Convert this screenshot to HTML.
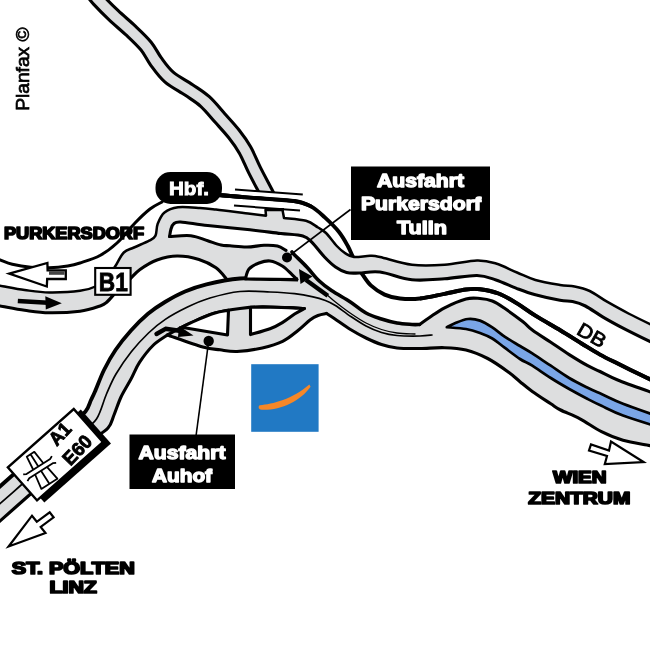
<!DOCTYPE html>
<html><head><meta charset="utf-8"><title>Map</title>
<style>
html,body{margin:0;padding:0;background:#fff;}
body{width:650px;height:650px;overflow:hidden;font-family:"Liberation Sans",sans-serif;}
svg{display:block;filter:blur(0.5px);}
svg text{font-family:"Liberation Sans",sans-serif;}
</style></head><body>
<svg width="650" height="650" viewBox="0 0 650 650">
<rect width="650" height="650" fill="#fff"/>
<path d="M218.0 195.0 C223.3 195.4 237.3 196.6 250.0 197.6 C262.7 198.6 283.8 199.5 294.0 201.0 C304.2 202.5 305.9 203.7 311.0 206.4 C316.1 209.1 320.1 213.1 324.8 217.4 C329.5 221.7 335.2 227.2 339.0 232.0 C342.8 236.8 345.5 241.8 347.8 246.0 C350.1 250.2 350.7 252.5 353.0 257.0 C355.3 261.5 358.5 268.3 361.5 273.0 C364.5 277.7 366.9 281.8 370.8 285.4 C374.7 289.0 379.7 292.4 384.6 294.6 C389.5 296.8 394.1 297.9 400.0 298.5 C405.9 299.1 412.6 299.3 420.0 298.5 C427.4 297.7 436.9 295.3 444.6 293.8 C452.3 292.3 460.1 290.3 466.0 289.5 C471.9 288.7 474.6 288.5 480.0 289.2 C485.4 289.9 492.3 291.1 498.5 293.5 C504.7 295.9 510.9 299.7 517.0 303.4 C523.1 307.1 528.1 311.2 535.4 315.7 C542.7 320.2 552.9 325.9 560.6 330.5 C568.3 335.1 574.9 339.5 581.5 343.5 C588.1 347.5 594.0 351.3 600.0 354.6 C606.0 357.9 611.2 360.3 617.7 363.5 C624.2 366.7 632.0 370.6 639.0 374.0 C646.0 377.4 656.5 382.3 660.0 384.0" fill="none" stroke="#000" stroke-width="3.9" stroke-linecap="round" stroke-linejoin="round"/>
<path d="M-5.0 258.0 C-4.2 258.3 -2.9 258.8 0.0 259.8 C2.9 260.8 7.2 263.0 12.3 264.2 C17.4 265.4 24.6 266.6 30.8 267.2 C37.0 267.8 43.1 268.0 49.2 267.8 C55.4 267.6 62.6 266.8 67.7 266.0 C72.8 265.2 74.6 264.8 80.0 263.0 C85.4 261.2 93.8 258.8 100.0 255.5 C106.2 252.2 111.2 248.4 117.0 243.0 C122.8 237.6 129.5 228.7 135.0 223.0 C140.5 217.3 145.5 212.5 150.0 209.0 C154.5 205.5 160.0 203.2 162.0 202.0" fill="none" stroke="#000" stroke-width="3.0" stroke-linecap="round" stroke-linejoin="round"/>
<path d="M92.0 -8.0 C93.1 -6.7 94.9 -3.9 98.5 0.0 C102.1 3.9 108.4 10.3 113.8 15.4 C119.2 20.5 125.6 25.7 131.0 30.8 C136.4 35.9 141.8 40.9 146.0 46.0 C150.2 51.1 152.2 56.3 156.0 61.5 C159.8 66.7 163.5 72.2 169.0 77.0 C174.5 81.8 183.0 85.9 189.0 90.0 C195.0 94.1 199.8 96.8 205.0 101.5 C210.2 106.2 215.2 112.6 220.0 118.0 C224.8 123.4 229.8 128.7 234.0 134.0 C238.2 139.3 241.6 144.0 245.0 150.0 C248.4 156.0 251.0 163.0 254.5 170.0 C258.0 177.0 263.4 187.0 266.0 192.0 C268.6 197.0 269.3 198.7 270.0 200.0" fill="none" stroke="#000" stroke-width="16.0" stroke-linecap="butt" stroke-linejoin="round"/>
<path d="M92.0 -8.0 C93.1 -6.7 94.9 -3.9 98.5 0.0 C102.1 3.9 108.4 10.3 113.8 15.4 C119.2 20.5 125.6 25.7 131.0 30.8 C136.4 35.9 141.8 40.9 146.0 46.0 C150.2 51.1 152.2 56.3 156.0 61.5 C159.8 66.7 163.5 72.2 169.0 77.0 C174.5 81.8 183.0 85.9 189.0 90.0 C195.0 94.1 199.8 96.8 205.0 101.5 C210.2 106.2 215.2 112.6 220.0 118.0 C224.8 123.4 229.8 128.7 234.0 134.0 C238.2 139.3 241.6 144.0 245.0 150.0 C248.4 156.0 251.0 163.0 254.5 170.0 C258.0 177.0 263.4 187.0 266.0 192.0 C268.6 197.0 269.3 198.7 270.0 200.0" fill="none" stroke="#dddedf" stroke-width="9.8" stroke-linecap="butt" stroke-linejoin="round"/>
<path d="M244 190.2 L292 193.8 L292 212 L244 212 Z" fill="#fff"/>
<path d="M218.0 195.0 C223.3 195.4 237.3 196.6 250.0 197.6 C262.7 198.6 283.8 199.5 294.0 201.0 C304.2 202.5 308.2 205.5 311.0 206.4" fill="none" stroke="#000" stroke-width="3.9" stroke-linecap="round" stroke-linejoin="round"/>
<rect x="266" y="209" width="17" height="12" fill="#dddedf" stroke="#000" stroke-width="2"/>
<path d="M-8.0 284.3 C-6.7 284.5 -5.4 284.8 0.0 285.7 C5.4 286.6 16.4 288.9 24.6 290.0 C32.8 291.1 40.0 292.4 49.2 292.5 C58.4 292.6 71.9 292.0 80.0 290.8 C88.1 289.6 93.3 287.8 98.0 285.5 C102.7 283.2 105.1 280.2 108.0 277.0 C110.9 273.8 112.8 270.1 115.4 266.0 C118.0 261.9 120.7 255.6 123.8 252.5 C126.9 249.4 129.8 249.5 134.0 247.5 C138.2 245.5 145.6 242.7 149.2 240.7 C152.8 238.7 154.1 238.4 155.5 235.6 C156.9 232.8 156.2 227.7 157.7 223.8 C159.2 220.0 161.1 215.2 164.5 212.5 C167.9 209.8 172.1 208.1 178.0 207.3 C183.9 206.6 193.7 207.6 200.0 208.0 C206.3 208.4 207.7 208.6 216.0 209.5 C224.3 210.4 241.7 212.7 250.0 213.7 C258.3 214.7 263.3 215.4 266.0 215.7 L265.5 210 L282.5 210 L284 218 C287.7 218.5 300.3 219.2 306.0 220.8 C311.7 222.4 314.7 225.5 318.0 227.5 C321.3 229.5 322.9 229.9 326.0 233.0 C329.1 236.1 333.6 242.6 336.8 246.0 C340.0 249.4 342.5 251.6 345.4 253.4 C348.3 255.2 349.9 256.6 354.0 257.0 C358.1 257.4 365.7 255.8 370.0 255.8 C374.3 255.8 373.0 255.5 380.0 257.0 C387.0 258.5 401.2 263.5 412.0 264.8 C422.8 266.1 433.8 265.5 444.6 264.8 C455.4 264.1 468.4 260.7 477.0 260.5 C485.6 260.3 489.3 261.5 496.0 263.5 C502.7 265.5 510.4 269.8 517.0 272.5 C523.6 275.2 528.2 277.9 535.4 280.0 C542.6 282.1 553.5 283.9 560.0 285.0 C566.5 286.1 569.6 285.5 574.6 286.5 C579.6 287.5 584.3 288.5 589.7 291.0 C595.1 293.5 600.5 297.9 607.0 301.7 C613.5 305.4 620.0 309.1 628.5 313.5 C637.0 317.9 653.1 325.6 658.0 328.0 L658 345.5 C652.3 342.7 633.2 333.4 624.0 328.6 C614.8 323.8 609.0 320.6 602.6 316.8 C596.2 313.0 590.4 308.6 585.4 306.0 C580.4 303.4 576.7 302.4 572.5 301.5 C568.3 300.6 566.2 301.4 560.0 300.3 C553.8 299.2 542.6 296.8 535.4 294.8 C528.2 292.9 523.6 291.1 517.0 288.6 C510.4 286.1 502.7 282.2 496.0 280.0 C489.3 277.8 485.6 275.7 477.0 275.5 C468.4 275.3 455.4 278.1 444.6 278.8 C433.8 279.5 422.8 280.9 412.0 279.8 C401.2 278.7 388.8 273.1 380.0 272.0 C371.2 270.9 364.6 272.9 359.0 273.0 C353.4 273.1 350.5 273.5 346.6 272.5 C342.7 271.5 339.2 269.6 335.5 267.0 C331.8 264.4 328.4 261.1 324.5 257.0 C320.6 252.9 315.8 245.7 312.0 242.3 C308.2 238.9 305.7 237.7 302.0 236.4 C298.3 235.2 292.0 235.1 290.0 234.8 L300 262 L340 305 L240 285 L227 279.5 C225.2 277.6 220.7 271.2 216.0 267.8 C211.3 264.4 205.5 261.4 199.0 259.4 C192.5 257.4 184.0 255.9 177.0 256.0 C170.0 256.1 163.2 257.8 157.0 260.0 C150.8 262.2 144.7 266.2 140.0 269.5 C135.3 272.8 132.7 276.6 129.0 280.0 C125.3 283.4 121.7 286.3 118.0 290.0 C114.3 293.7 110.0 299.3 107.0 302.0 C104.0 304.7 104.5 304.5 100.0 306.0 C95.5 307.5 88.5 310.1 80.0 311.2 C71.5 312.3 58.4 312.9 49.2 312.8 C40.0 312.7 32.8 311.4 24.6 310.3 C16.4 309.2 5.4 306.9 0.0 306.0 C-5.4 305.1 -6.7 304.8 -8.0 304.6Z" fill="#dddedf" stroke="none" stroke-width="0.0" stroke-linejoin="round" />
<path d="M-8.0 284.3 C-6.7 284.5 -5.4 284.8 0.0 285.7 C5.4 286.6 16.4 288.9 24.6 290.0 C32.8 291.1 40.0 292.4 49.2 292.5 C58.4 292.6 71.9 292.0 80.0 290.8 C88.1 289.6 93.3 287.8 98.0 285.5 C102.7 283.2 105.1 280.2 108.0 277.0 C110.9 273.8 112.8 270.1 115.4 266.0 C118.0 261.9 120.7 255.6 123.8 252.5 C126.9 249.4 129.8 249.5 134.0 247.5 C138.2 245.5 145.6 242.7 149.2 240.7 C152.8 238.7 154.1 238.4 155.5 235.6 C156.9 232.8 156.2 227.7 157.7 223.8 C159.2 220.0 161.1 215.2 164.5 212.5 C167.9 209.8 172.1 208.1 178.0 207.3 C183.9 206.6 193.7 207.6 200.0 208.0 C206.3 208.4 207.7 208.6 216.0 209.5 C224.3 210.4 241.7 212.7 250.0 213.7 C258.3 214.7 263.3 215.4 266.0 215.7 L265.5 210 L282.5 210 L284 218 C287.7 218.5 300.3 219.2 306.0 220.8 C311.7 222.4 314.7 225.5 318.0 227.5 C321.3 229.5 322.9 229.9 326.0 233.0 C329.1 236.1 333.6 242.6 336.8 246.0 C340.0 249.4 342.5 251.6 345.4 253.4 C348.3 255.2 349.9 256.6 354.0 257.0 C358.1 257.4 365.7 255.8 370.0 255.8 C374.3 255.8 373.0 255.5 380.0 257.0 C387.0 258.5 401.2 263.5 412.0 264.8 C422.8 266.1 433.8 265.5 444.6 264.8 C455.4 264.1 468.4 260.7 477.0 260.5 C485.6 260.3 489.3 261.5 496.0 263.5 C502.7 265.5 510.4 269.8 517.0 272.5 C523.6 275.2 528.2 277.9 535.4 280.0 C542.6 282.1 553.5 283.9 560.0 285.0 C566.5 286.1 569.6 285.5 574.6 286.5 C579.6 287.5 584.3 288.5 589.7 291.0 C595.1 293.5 600.5 297.9 607.0 301.7 C613.5 305.4 620.0 309.1 628.5 313.5 C637.0 317.9 653.1 325.6 658.0 328.0" fill="none" stroke="#000" stroke-width="2.5" stroke-linejoin="round"/>
<path d="M-8.0 304.6 C-6.7 304.8 -5.4 305.1 0.0 306.0 C5.4 306.9 16.4 309.2 24.6 310.3 C32.8 311.4 40.0 312.7 49.2 312.8 C58.4 312.9 71.5 312.3 80.0 311.2 C88.5 310.1 95.5 307.5 100.0 306.0 C104.5 304.5 104.0 304.7 107.0 302.0 C110.0 299.3 114.3 293.7 118.0 290.0 C121.7 286.3 125.3 283.4 129.0 280.0 C132.7 276.6 135.3 272.8 140.0 269.5 C144.7 266.2 150.8 262.2 157.0 260.0 C163.2 257.8 170.0 256.1 177.0 256.0 C184.0 255.9 192.5 257.4 199.0 259.4 C205.5 261.4 211.3 264.4 216.0 267.8 C220.7 271.2 225.2 277.6 227.0 279.5" fill="none" stroke="#000" stroke-width="3.1" stroke-linecap="round" stroke-linejoin="round"/>
<path d="M169.6 236.5 C169.8 235.2 170.3 231.1 171.0 229.0 C171.7 226.9 172.2 225.0 173.8 223.8 C175.4 222.6 174.9 221.7 180.6 222.0 C186.2 222.3 196.1 224.2 207.7 225.5 C219.3 226.8 237.8 228.5 250.0 229.8 C262.2 231.1 272.0 232.5 280.8 233.5 C289.6 234.5 297.6 234.5 302.8 236.0 C308.0 237.5 308.4 238.8 312.0 242.3 C315.6 245.8 320.6 252.9 324.5 257.0 C328.4 261.1 331.8 264.4 335.5 267.0 C339.2 269.6 342.7 271.5 346.6 272.5 C350.5 273.5 353.4 273.1 359.0 273.0 C364.6 272.9 376.5 272.2 380.0 272.0 L420 280 L420 335 L366 316 L331.5 293 L307 270 L292 252 L286 250.4 C284.6 249.7 281.1 246.8 277.4 246.0 C273.7 245.2 269.1 245.1 264.0 245.3 C258.9 245.5 252.7 246.9 247.0 247.0 C241.3 247.1 234.3 246.1 230.0 245.8 C225.7 245.5 224.7 245.8 221.0 245.0 C217.3 244.2 212.7 242.4 207.7 240.8 C202.7 239.2 193.6 236.5 190.8 235.7Z" fill="#fff" stroke="none" stroke-width="0.0" stroke-linejoin="round" />
<path d="M361.5 273.0 C363.1 275.1 366.9 281.8 370.8 285.4 C374.7 289.0 379.7 292.4 384.6 294.6 C389.5 296.8 394.1 297.9 400.0 298.5 C405.9 299.1 412.6 299.3 420.0 298.5 C427.4 297.7 436.9 295.3 444.6 293.8 C452.3 292.3 460.1 290.3 466.0 289.5 C471.9 288.7 474.6 288.5 480.0 289.2 C485.4 289.9 492.3 291.1 498.5 293.5 C504.7 295.9 510.9 299.7 517.0 303.4 C523.1 307.1 528.1 311.2 535.4 315.7 C542.7 320.2 552.9 325.9 560.6 330.5 C568.3 335.1 574.9 339.5 581.5 343.5 C588.1 347.5 594.0 351.3 600.0 354.6 C606.0 357.9 611.2 360.3 617.7 363.5 C624.2 366.7 632.0 370.6 639.0 374.0 C646.0 377.4 656.5 382.3 660.0 384.0" fill="none" stroke="#000" stroke-width="3.9" stroke-linecap="butt" stroke-linejoin="round"/>
<path d="M169.6 236.5 C169.8 235.2 170.3 231.1 171.0 229.0 C171.7 226.9 172.2 225.0 173.8 223.8 C175.4 222.6 174.9 221.7 180.6 222.0 C186.2 222.3 196.1 224.2 207.7 225.5 C219.3 226.8 237.8 228.5 250.0 229.8 C262.2 231.1 272.0 232.5 280.8 233.5 C289.6 234.5 297.6 234.5 302.8 236.0 C308.0 237.5 308.4 238.8 312.0 242.3 C315.6 245.8 320.6 252.9 324.5 257.0 C328.4 261.1 331.8 264.4 335.5 267.0 C339.2 269.6 342.7 271.5 346.6 272.5 C350.5 273.5 353.4 273.1 359.0 273.0 C364.6 272.9 371.2 270.9 380.0 272.0 C388.8 273.1 401.2 278.7 412.0 279.8 C422.8 280.9 433.8 279.5 444.6 278.8 C455.4 278.1 468.4 275.3 477.0 275.5 C485.6 275.7 489.3 277.8 496.0 280.0 C502.7 282.2 510.4 286.1 517.0 288.6 C523.6 291.1 528.2 292.9 535.4 294.8 C542.6 296.8 553.8 299.2 560.0 300.3 C566.2 301.4 568.3 300.6 572.5 301.5 C576.7 302.4 580.4 303.4 585.4 306.0 C590.4 308.6 596.2 313.0 602.6 316.8 C609.0 320.6 614.8 323.8 624.0 328.6 C633.2 333.4 652.3 342.7 658.0 345.5" fill="none" stroke="#000" stroke-width="3.1" stroke-linecap="round" stroke-linejoin="round"/>
<path d="M169.6 236.5 C173.1 236.4 184.5 235.0 190.8 235.7 C197.2 236.4 202.7 239.2 207.7 240.8 C212.7 242.4 217.3 244.2 221.0 245.0 C224.7 245.8 225.7 245.5 230.0 245.8 C234.3 246.1 241.3 247.1 247.0 247.0 C252.7 246.9 258.9 245.5 264.0 245.3 C269.1 245.1 273.7 245.2 277.4 246.0 C281.1 246.8 284.6 249.7 286.0 250.4" fill="none" stroke="#000" stroke-width="3.1" stroke-linecap="round" stroke-linejoin="round"/>
<path d="M-8.0 493.5 C-5.3 491.1 -0.8 487.1 8.3 479.0 C17.4 470.9 36.5 454.1 46.8 445.0 C57.1 435.9 63.5 430.1 70.0 424.5 C76.5 418.9 82.0 415.6 85.5 411.5 C89.0 407.4 89.4 403.3 91.0 400.0 C92.6 396.7 92.8 396.5 95.0 391.5 C97.2 386.5 100.6 376.9 104.0 370.0 C107.4 363.1 111.0 356.6 115.5 350.0 C120.0 343.4 125.6 336.5 131.0 330.5 C136.4 324.5 142.3 318.6 148.0 313.8 C153.7 309.1 158.8 305.7 165.0 302.0 C171.2 298.3 178.1 294.4 185.0 291.5 C191.9 288.6 197.3 286.5 206.5 284.3 C215.7 282.1 229.4 279.4 240.0 278.5 C250.6 277.6 260.3 278.8 270.0 279.0 C279.7 279.2 293.3 279.4 298.0 279.5 L294 262 L292 252 C292.4 252.5 292.1 252.5 294.6 255.0 C297.1 257.5 302.9 262.9 307.0 267.2 C311.1 271.5 314.9 276.9 319.0 280.8 C323.1 284.7 326.3 287.1 331.5 290.6 C336.7 294.1 344.2 298.0 350.0 301.7 C355.8 305.4 360.8 310.1 366.0 313.0 C371.2 315.9 376.3 317.3 381.5 319.0 C386.7 320.7 391.9 322.1 397.0 323.0 C402.1 323.9 408.2 324.2 412.0 324.5 C415.8 324.8 418.2 324.5 419.5 324.5C421.2 323.3 425.3 320.3 429.5 317.5 C433.7 314.7 438.5 310.9 444.6 307.8 C450.7 304.7 460.1 300.6 466.0 299.0 C471.9 297.4 475.6 298.2 480.0 298.5 C484.4 298.8 488.2 299.4 492.3 301.0 C496.4 302.6 499.5 304.8 504.6 308.3 C509.7 311.8 518.4 318.2 523.0 321.8 C527.6 325.4 527.7 326.6 532.3 330.0 C536.9 333.4 544.6 338.2 550.8 342.3 C556.9 346.4 563.1 350.7 569.2 354.6 C575.4 358.5 582.6 362.9 587.7 365.7 C592.8 368.5 595.0 369.1 600.0 371.5 C605.0 373.9 609.4 376.6 617.7 380.0 C626.0 383.4 643.0 389.3 650.0 391.8 C657.0 394.3 658.3 394.5 660.0 395.0 L660 448 C658.3 447.6 656.2 447.0 650.0 445.7 C643.8 444.4 631.1 442.6 623.0 440.3 C614.9 438.0 608.7 435.3 601.5 431.7 C594.3 428.1 586.8 422.4 580.0 418.8 C573.2 415.2 565.5 412.5 560.6 410.0 C555.7 407.5 555.5 406.9 550.8 403.8 C546.1 400.7 537.4 395.2 532.3 391.5 C527.2 387.8 523.9 384.9 520.0 381.7 C516.1 378.5 514.4 376.4 509.0 372.5 C503.6 368.6 494.9 362.2 487.7 358.5 C480.5 354.8 473.2 351.8 466.0 350.0 C458.8 348.2 452.3 347.9 444.6 347.7 C436.9 347.4 427.9 348.4 420.0 348.5 C412.1 348.6 403.4 348.7 397.0 348.0 C390.6 347.3 386.7 346.2 381.5 344.5 C376.3 342.8 371.2 340.5 366.0 338.0 C360.8 335.5 355.7 332.7 350.5 329.5 C345.3 326.3 339.0 321.7 335.0 319.0 C331.0 316.3 327.9 314.4 326.5 313.5C325.1 313.8 320.8 314.4 318.0 315.5 C315.2 316.6 313.3 317.5 310.0 320.0 C306.7 322.5 302.6 326.9 298.0 330.5 C293.4 334.1 288.6 338.5 282.6 341.4 C276.7 344.3 269.9 346.3 262.3 348.0 C254.7 349.7 244.1 351.2 237.0 351.5 C229.9 351.8 225.7 350.6 220.0 349.8 C214.3 349.1 211.6 349.5 202.8 347.0 C194.0 344.5 173.3 337.0 167.4 335.0C165.0 336.8 157.7 340.9 153.0 345.5 C148.3 350.1 143.2 356.8 139.5 362.4 C135.8 368.0 134.1 373.2 131.0 379.0 C127.9 384.8 123.8 391.0 121.0 397.0 C118.2 403.0 116.2 409.8 114.0 415.0 C111.8 420.2 112.0 423.6 108.0 428.0 C104.0 432.4 97.3 435.4 90.0 441.5 C82.7 447.6 74.4 455.2 64.0 464.4 C53.6 473.6 39.7 485.9 27.7 496.5 C15.7 507.1 -2.0 522.8 -8.0 528.0Z" fill="#dddedf" stroke="none" stroke-width="0.0" stroke-linejoin="round" />
<path d="M-8.0 493.5 C-5.3 491.1 -0.8 487.1 8.3 479.0 C17.4 470.9 36.5 454.1 46.8 445.0 C57.1 435.9 63.5 430.1 70.0 424.5 C76.5 418.9 82.0 415.6 85.5 411.5 C89.0 407.4 89.4 403.3 91.0 400.0 C92.6 396.7 92.8 396.5 95.0 391.5 C97.2 386.5 100.6 376.9 104.0 370.0 C107.4 363.1 111.0 356.6 115.5 350.0 C120.0 343.4 125.6 336.5 131.0 330.5 C136.4 324.5 142.3 318.6 148.0 313.8 C153.7 309.1 158.8 305.7 165.0 302.0 C171.2 298.3 178.1 294.4 185.0 291.5 C191.9 288.6 197.3 286.5 206.5 284.3 C215.7 282.1 229.4 279.4 240.0 278.5 C250.6 277.6 260.3 278.8 270.0 279.0 C279.7 279.2 293.3 279.4 298.0 279.5" fill="none" stroke="#000" stroke-width="3.8" stroke-linecap="butt" stroke-linejoin="round"/>
<path d="M292.0 252.0 C292.4 252.5 292.1 252.5 294.6 255.0 C297.1 257.5 302.9 262.9 307.0 267.2 C311.1 271.5 314.9 276.9 319.0 280.8 C323.1 284.7 326.3 287.1 331.5 290.6 C336.7 294.1 344.2 298.0 350.0 301.7 C355.8 305.4 360.8 310.1 366.0 313.0 C371.2 315.9 376.3 317.3 381.5 319.0 C386.7 320.7 391.9 322.1 397.0 323.0 C402.1 323.9 408.2 324.2 412.0 324.5 C415.8 324.8 418.2 324.5 419.5 324.5" fill="none" stroke="#000" stroke-width="3.6" stroke-linecap="round" stroke-linejoin="round"/>
<path d="M419.5 324.5 C421.2 323.3 425.3 320.3 429.5 317.5 C433.7 314.7 438.5 310.9 444.6 307.8 C450.7 304.7 460.1 300.6 466.0 299.0 C471.9 297.4 475.6 298.2 480.0 298.5 C484.4 298.8 488.2 299.4 492.3 301.0 C496.4 302.6 499.5 304.8 504.6 308.3 C509.7 311.8 518.4 318.2 523.0 321.8 C527.6 325.4 527.7 326.6 532.3 330.0 C536.9 333.4 544.6 338.2 550.8 342.3 C556.9 346.4 563.1 350.7 569.2 354.6 C575.4 358.5 582.6 362.9 587.7 365.7 C592.8 368.5 595.0 369.1 600.0 371.5 C605.0 373.9 609.4 376.6 617.7 380.0 C626.0 383.4 643.0 389.3 650.0 391.8 C657.0 394.3 658.3 394.5 660.0 395.0" fill="none" stroke="#000" stroke-width="3.1" stroke-linecap="round" stroke-linejoin="round"/>
<path d="M660.0 448.0 C658.3 447.6 656.2 447.0 650.0 445.7 C643.8 444.4 631.1 442.6 623.0 440.3 C614.9 438.0 608.7 435.3 601.5 431.7 C594.3 428.1 586.8 422.4 580.0 418.8 C573.2 415.2 565.5 412.5 560.6 410.0 C555.7 407.5 555.5 406.9 550.8 403.8 C546.1 400.7 537.4 395.2 532.3 391.5 C527.2 387.8 523.9 384.9 520.0 381.7 C516.1 378.5 514.4 376.4 509.0 372.5 C503.6 368.6 494.9 362.2 487.7 358.5 C480.5 354.8 473.2 351.8 466.0 350.0 C458.8 348.2 452.3 347.9 444.6 347.7 C436.9 347.4 427.9 348.4 420.0 348.5 C412.1 348.6 403.4 348.7 397.0 348.0 C390.6 347.3 386.7 346.2 381.5 344.5 C376.3 342.8 371.2 340.5 366.0 338.0 C360.8 335.5 355.7 332.7 350.5 329.5 C345.3 326.3 339.0 321.7 335.0 319.0 C331.0 316.3 327.9 314.4 326.5 313.5" fill="none" stroke="#000" stroke-width="3.1" stroke-linecap="round" stroke-linejoin="round"/>
<path d="M326.5 313.5 C325.1 313.8 320.8 314.4 318.0 315.5 C315.2 316.6 313.3 317.5 310.0 320.0 C306.7 322.5 302.6 326.9 298.0 330.5 C293.4 334.1 288.6 338.5 282.6 341.4 C276.7 344.3 269.9 346.3 262.3 348.0 C254.7 349.7 244.1 351.2 237.0 351.5 C229.9 351.8 225.7 350.6 220.0 349.8 C214.3 349.1 211.6 349.5 202.8 347.0 C194.0 344.5 173.3 337.0 167.4 335.0" fill="none" stroke="#000" stroke-width="3.1" stroke-linecap="round" stroke-linejoin="round"/>
<path d="M167.4 335.0 C165.0 336.8 157.7 340.9 153.0 345.5 C148.3 350.1 143.2 356.8 139.5 362.4 C135.8 368.0 134.1 373.2 131.0 379.0 C127.9 384.8 123.8 391.0 121.0 397.0 C118.2 403.0 116.2 409.8 114.0 415.0 C111.8 420.2 112.0 423.6 108.0 428.0 C104.0 432.4 97.3 435.4 90.0 441.5 C82.7 447.6 74.4 455.2 64.0 464.4 C53.6 473.6 39.7 485.9 27.7 496.5 C15.7 507.1 -2.0 522.8 -8.0 528.0" fill="none" stroke="#000" stroke-width="3.1" stroke-linecap="round" stroke-linejoin="round"/>
<path d="M-8.0 510.8 C-3.3 506.7 9.4 495.4 20.0 486.0 C30.6 476.6 45.4 463.5 55.4 454.7 C65.4 445.9 73.2 438.9 80.0 433.0 C86.8 427.1 92.1 425.5 96.5 419.0 C100.9 412.5 103.2 401.5 106.5 394.0 C109.8 386.5 111.8 381.1 116.0 374.0 C120.2 366.9 126.1 358.3 131.5 351.5 C136.9 344.7 142.9 338.4 148.5 333.0 C154.1 327.6 158.9 323.7 165.3 319.4 C171.7 315.1 179.6 310.9 187.0 307.3 C194.4 303.7 201.2 300.6 210.0 298.0 C218.8 295.4 230.0 292.5 240.0 291.5 C250.0 290.5 260.9 291.6 270.0 292.0 C279.1 292.4 287.4 292.9 294.6 293.7 C301.8 294.5 307.9 295.7 313.0 296.8 C318.1 297.9 321.7 299.1 325.4 300.5 C329.1 301.9 331.2 302.8 335.4 305.5 C339.6 308.2 345.7 313.1 350.8 316.5 C355.9 319.9 360.9 323.3 366.0 326.0 C371.1 328.7 376.3 330.9 381.5 332.5 C386.7 334.1 390.6 334.9 397.0 335.5 C403.4 336.1 414.2 336.1 420.0 336.0 C425.8 335.9 430.0 335.2 432.0 335.0" fill="none" stroke="#000" stroke-width="1.7" stroke-linecap="round" stroke-linejoin="round"/>
<path d="M327.8 295.5 C329.1 296.6 331.6 299.0 335.4 302.0 C339.2 305.0 345.7 310.0 350.8 313.5 C355.9 317.0 360.9 320.3 366.0 323.0 C371.1 325.7 376.3 327.8 381.5 329.5 C386.7 331.2 391.4 332.2 397.0 333.0 C402.6 333.8 412.0 333.8 415.0 334.0" fill="none" stroke="#000" stroke-width="1.3" stroke-linecap="round" stroke-linejoin="round"/>
<path d="M167.4 335.0 C169.8 333.7 176.3 329.9 181.5 327.3 C186.7 324.7 192.9 321.7 198.5 319.3 C204.1 316.9 208.1 314.8 215.0 313.0 C221.9 311.2 232.2 309.5 240.0 308.5 C247.8 307.5 253.9 306.9 262.0 306.8 C270.1 306.7 281.4 307.3 288.5 307.6 C295.6 307.9 301.8 308.4 304.5 308.5" fill="none" stroke="#000" stroke-width="3.1" stroke-linecap="round" stroke-linejoin="round"/>
<path d="M181.5 327.3 C184.3 326.0 192.9 321.7 198.5 319.3 C204.1 316.9 210.0 314.5 215.0 313.0 C220.0 311.5 226.2 310.8 228.5 310.3 L227.5 335 Z" fill="#fff" stroke="#000" stroke-width="3.1" stroke-linejoin="round" />
<path d="M250.5 307.2 C253.8 307.2 263.7 307.1 270.0 307.2 C276.3 307.3 282.8 307.4 288.5 307.6 C294.2 307.8 301.8 308.4 304.5 308.5C302.9 309.4 298.3 311.6 294.6 314.0 C290.9 316.4 286.4 320.1 282.3 322.6 C278.2 325.1 275.3 326.8 270.0 328.8 C264.7 330.8 253.8 333.6 250.5 334.6Z" fill="#fff" stroke="#000" stroke-width="3.1" stroke-linejoin="round" />
<path d="M245.4 279.0 C246.0 277.3 246.7 271.7 249.0 269.0 C251.3 266.3 255.5 264.3 259.0 263.0 C262.5 261.7 266.1 260.5 270.0 261.0 C273.9 261.5 278.6 263.7 282.3 266.0 C286.0 268.3 289.6 272.4 292.0 274.6 C294.4 276.9 296.2 278.7 297.0 279.5Z" fill="#fff" stroke="#000" stroke-width="3.1" stroke-linejoin="round" />
<path d="M446.8 327.2 C448.2 326.5 451.9 324.4 455.4 323.0 C458.9 321.6 463.9 319.4 468.0 319.0 C472.1 318.6 475.9 319.2 480.0 320.6 C484.1 322.0 488.2 324.7 492.3 327.4 C496.4 330.1 500.0 333.5 504.6 336.6 C509.2 339.7 515.4 343.2 520.0 346.0 C524.6 348.8 527.2 350.1 532.3 353.4 C537.4 356.7 544.6 361.6 550.8 365.7 C556.9 369.8 563.1 374.3 569.2 378.0 C575.4 381.7 582.3 385.1 587.7 387.8 C593.1 390.5 595.6 391.4 601.5 394.0 C607.4 396.6 613.2 399.9 623.0 403.7 C632.8 407.5 653.8 414.8 660.0 417.0 L660 427.5 C653.8 425.5 632.8 419.1 623.0 415.5 C613.2 411.9 607.4 408.6 601.5 405.8 C595.6 403.1 593.1 401.8 587.7 399.0 C582.3 396.2 575.4 392.5 569.2 389.0 C563.1 385.5 556.9 381.9 550.8 378.0 C544.6 374.1 537.4 368.9 532.3 365.7 C527.2 362.5 524.6 362.0 520.0 359.0 C515.4 356.0 509.2 351.1 504.6 347.7 C500.0 344.3 496.4 340.9 492.3 338.5 C488.2 336.1 484.4 334.6 480.0 333.0 C475.6 331.4 471.5 330.0 466.0 329.0 C460.5 328.0 450.0 327.5 446.8 327.2Z" fill="#7aa5e6" stroke="#000" stroke-width="2.7" stroke-linejoin="round" />
<path d="M235.0 189.5 L302.8 194.5" fill="none" stroke="#000" stroke-width="2.0" stroke-linecap="butt" stroke-linejoin="round"/>
<path d="M234.0 205.5 L300.0 210.6" fill="none" stroke="#000" stroke-width="2.0" stroke-linecap="butt" stroke-linejoin="round"/>
<path d="M222.0 195.3 C226.7 195.7 238.0 196.7 250.0 197.6 C262.0 198.5 286.7 200.4 294.0 201.0" fill="none" stroke="#000" stroke-width="3.9" stroke-linecap="round" stroke-linejoin="round"/>
<path d="M327.8 295.8 L306 280" stroke="#000" stroke-width="4.4" fill="none"/>
<path d="M299 269 L312.5 276.5 L300.5 284 Z" fill="#000"/>
<path d="M156.5 334 L165.5 328.8 L181 331" stroke="#000" stroke-width="4.4" fill="none" stroke-linejoin="round" stroke-linecap="round"/>
<path d="M193.5 335.5 L179 326 L178 337 Z" fill="#000"/>
<line x1="350.5" y1="209.5" x2="287" y2="257.5" stroke="#000" stroke-width="1.6"/>
<circle cx="287" cy="257.5" r="5" fill="#000"/>
<line x1="208.7" y1="341" x2="196" y2="436" stroke="#000" stroke-width="1.6"/>
<circle cx="208.7" cy="341" r="5.2" fill="#000"/>
<path d="M9.2 273.6 L47.4 263 L47.6 270.3 L65.8 270.3 L65.8 279 L47.2 279 L46.8 286.5 Z" fill="#fff" stroke="#000" stroke-width="2.3" stroke-linejoin="miter"/>
<rect x="49" y="271.2" width="15.6" height="3.6" fill="#444"/>
<path d="M17.8 301 L48 302.7" stroke="#000" stroke-width="4.4" fill="none"/>
<path d="M61.8 303.2 L45.3 296.3 L45.8 309.5 Z" fill="#000"/>
<rect x="95.2" y="268" width="35.4" height="26.8" fill="#fff" stroke="#000" stroke-width="2.1"/>
<text x="113.3" y="290.6" font-size="25.5" font-weight="bold" stroke="#000" stroke-width="0.8" text-anchor="middle" textLength="29" lengthAdjust="spacingAndGlyphs">B1</text>
<rect x="155.5" y="172" width="66.5" height="32" rx="15" ry="15" fill="#000"/>
<text x="189" y="195" font-size="19" font-weight="bold" fill="#fff" stroke="#fff" stroke-width="0.9" text-anchor="middle" textLength="40" lengthAdjust="spacingAndGlyphs">Hbf.</text>
<rect x="351" y="166.5" width="139" height="73.5" fill="#000"/>
<text x="420.5" y="187" font-size="17.5" font-weight="bold" fill="#fff" stroke="#fff" stroke-width="1.3" stroke-linejoin="round" text-anchor="middle" textLength="87" lengthAdjust="spacingAndGlyphs">Ausfahrt</text>
<text x="421" y="210" font-size="17.5" font-weight="bold" fill="#fff" stroke="#fff" stroke-width="1.3" stroke-linejoin="round" text-anchor="middle" textLength="120" lengthAdjust="spacingAndGlyphs">Purkersdorf</text>
<text x="422" y="233.5" font-size="17.5" font-weight="bold" fill="#fff" stroke="#fff" stroke-width="1.3" stroke-linejoin="round" text-anchor="middle" textLength="50" lengthAdjust="spacingAndGlyphs">Tulln</text>
<rect x="129.5" y="434.5" width="105.5" height="54.5" fill="#000"/>
<text x="182" y="458.5" font-size="17.5" font-weight="bold" fill="#fff" stroke="#fff" stroke-width="1.3" stroke-linejoin="round" text-anchor="middle" textLength="87" lengthAdjust="spacingAndGlyphs">Ausfahrt</text>
<text x="182" y="482" font-size="17.5" font-weight="bold" fill="#fff" stroke="#fff" stroke-width="1.3" stroke-linejoin="round" text-anchor="middle" textLength="60" lengthAdjust="spacingAndGlyphs">Auhof</text>
<rect x="251.2" y="364.2" width="67.4" height="67.6" fill="#2179c4"/>
<path d="M260 405.2 C272 404.5 293 399 309.3 384.6 L310.6 386.8 C300 401.5 281 410.5 261.5 409.8 C258.3 409.5 257.8 405.8 260 405.2 Z" fill="#f58728"/>
<text x="74" y="239.2" font-size="16.6" font-weight="bold" fill="#000" stroke="#000" stroke-width="1.7" stroke-linejoin="round" text-anchor="middle" textLength="140" lengthAdjust="spacingAndGlyphs">PURKERSDORF</text>
<text x="73.3" y="573.7" font-size="16.4" font-weight="bold" fill="#000" stroke="#000" stroke-width="1.7" stroke-linejoin="round" text-anchor="middle" textLength="123" lengthAdjust="spacingAndGlyphs">ST. PÖLTEN</text>
<text x="73.2" y="593.4" font-size="16.4" font-weight="bold" fill="#000" stroke="#000" stroke-width="1.7" stroke-linejoin="round" text-anchor="middle" textLength="47.5" lengthAdjust="spacingAndGlyphs">LINZ</text>
<text x="579.8" y="483.4" font-size="16.4" font-weight="bold" fill="#000" stroke="#000" stroke-width="1.7" stroke-linejoin="round" text-anchor="middle" textLength="53.5" lengthAdjust="spacingAndGlyphs">WIEN</text>
<text x="579.3" y="504.4" font-size="16.4" font-weight="bold" fill="#000" stroke="#000" stroke-width="1.7" stroke-linejoin="round" text-anchor="middle" textLength="102" lengthAdjust="spacingAndGlyphs">ZENTRUM</text>
<text transform="translate(575.5,333.5) rotate(30)" font-size="19.5" fill="#000" stroke="#000" stroke-width="0.8" textLength="30" lengthAdjust="spacingAndGlyphs">DB</text>
<text transform="translate(29,110.8) rotate(-90)" font-size="19" fill="#000" stroke="#000" stroke-width="0.7" textLength="83.5" lengthAdjust="spacingAndGlyphs">Planfax ©</text>
<path d="M643.5 462 L611 441.5 L609 450.5 L591 444.5 L589 450.5 L607 456 L604.8 464 Z" fill="#fff" stroke="#000" stroke-width="2.2" stroke-linejoin="miter"/>
<path d="M8.6 546.5 L32 515.7 L36.8 521.8 L49.7 512.3 L53.6 517.4 L40.7 526.9 L45.5 533 Z" fill="#fff" stroke="#000" stroke-width="2.2" stroke-linejoin="miter"/>
<g transform="translate(55.4,454.7) rotate(-41.5)">
<rect x="-40" y="-17" width="89" height="45.5" fill="#000"/>
<rect x="-44" y="-22" width="88" height="44" fill="#fff" stroke="#000" stroke-width="2.4"/>
<text x="5.7" y="-6" font-size="19" font-weight="bold" stroke="#000" stroke-width="0.9" textLength="23" lengthAdjust="spacingAndGlyphs" transform="rotate(-5 16 -12)">A1</text>
<text x="3" y="17.5" font-size="19" font-weight="bold" stroke="#000" stroke-width="0.9" textLength="33" lengthAdjust="spacingAndGlyphs" transform="rotate(-5 19 11)">E60</text>
<g transform="translate(-21,0) rotate(9)" fill="none" stroke="#000" stroke-width="1.8" stroke-linejoin="round">
<path d="M-6 -2.5 L-4.5 -17 L4.5 -17 L6 -2.5 M0 -2.5 L0 -17" />
<path d="M-7 2.5 L-9.5 18 L9.5 18 L7 2.5 M0 2.5 L0 18"/>
<path d="M-17 -4 L-14 -2.5 L14 -2.5 L17 -4 M-17 4 L-14 2.5 L14 2.5 L17 4" />
</g></g>
</svg>
</body></html>
